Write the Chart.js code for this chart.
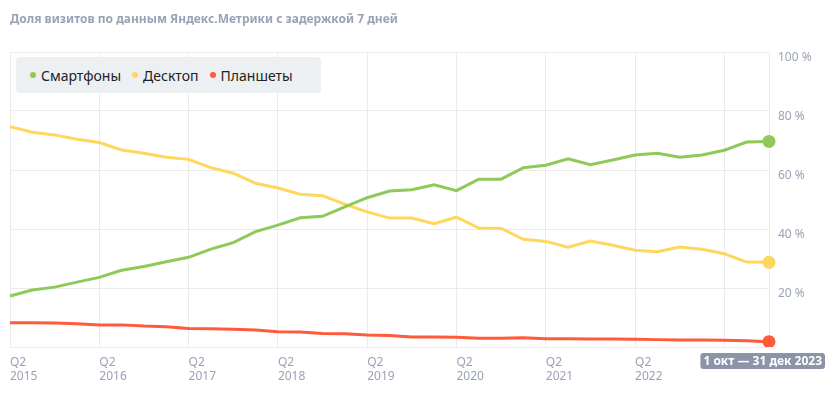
<!DOCTYPE html>
<html>
<head>
<meta charset="utf-8">
<script src="https://cdn.jsdelivr.net/npm/chart.js@4"></script>
<style>
  body { margin:0; background:#fff; font-family:"Noto Sans", Arial, sans-serif; }
  #wrap { position:relative; width:833px; height:399px; }
  #title { position:absolute; left:10px; top:10px; font-size:12px; font-weight:bold; color:#9aa2b6; }
  #legend { position:absolute; left:16px; top:57px; width:305px; height:36px; background:#edf0f3; border-radius:4px;
            display:flex; align-items:center; padding-left:14px; box-sizing:border-box; font-size:14px; color:#222; }
  #legend span.item { margin-right:11px; display:flex; align-items:center; }
  #legend span.dot { width:6px; height:6px; border-radius:3px; margin-right:5px; display:inline-block; }
</style>
</head>
<body>
<div id="wrap">
  <canvas id="myChart" width="833" height="399"></canvas>
  <div id="title">Доля визитов по данным Яндекс.Метрики с задержкой 7 дней</div>
  <div id="legend"></div>
</div>
<script>
// quarters Q2 2015 .. Q4 2023
let quarters=[];
for(let y=2015;y<=2023;y++){
  for(let q=1;q<=4;q++){
    if(y==2015 && q==1) continue;
    quarters.push("Q"+q+" "+y);
  }
}
let lastLabel="1 окт — 31 дек 2023";

let seriesNames=["Смартфоны","Десктоп","Планшеты"];
let seriesColors=["#8fc95a","#ffd75e","#ff5a3b"];

let smartphones=[17.3,19.3,20.3,22.0,23.6,26.0,27.3,28.9,30.4,33.2,35.4,39.1,41.3,
  43.8,44.3,47.5,50.6,52.9,53.3,55.0,53.0,56.9,56.9,60.8,61.6,
  63.8,61.8,63.4,65.1,65.7,64.3,65.1,66.7,69.5,69.7];
let desktop=[74.7,72.8,71.9,70.4,69.3,66.8,65.7,64.3,63.6,60.8,58.9,55.5,53.9,
  51.8,51.3,48.4,45.8,43.7,43.7,41.8,44.0,40.3,40.2,36.5,35.8,
  33.8,35.9,34.5,32.8,32.3,33.9,33.1,31.6,28.8,28.7];
let tablets=[8.2,8.2,8.1,7.9,7.5,7.5,7.1,6.9,6.3,6.2,6.0,5.8,5.2,
  5.1,4.6,4.5,4.1,3.9,3.4,3.4,3.3,3.0,3.0,3.1,2.8,
  2.8,2.7,2.7,2.6,2.5,2.4,2.4,2.3,2.1,1.8];

let yTicks=[0,20,40,60,80,100];

let allData=[smartphones,desktop,tablets];
let lastIdx=quarters.length-1;

// legend
let leg=document.getElementById("legend");
seriesNames.forEach((n,i)=>{
  leg.innerHTML+='<span class="item"><span class="dot" style="background:'+seriesColors[i]+'"></span>'+n+'</span>';
});

let badgePlugin={
  id:"badge",
  afterDraw(chart){
    let c=chart.ctx;
    let x=chart.scales.x.getPixelForValue(lastIdx);
    c.save();
    c.font="bold 12px 'Liberation Sans Narrow', 'Noto Sans', Arial, sans-serif";
    let w=c.measureText(lastLabel).width+6;
    let left=Math.min(x-w/2, 833-8-w);
    let top=353, h=16;
    c.fillStyle="#8e94a8";
    c.beginPath();
    c.roundRect(left,top,w,h,3);
    c.fill();
    c.fillStyle="#fff";
    c.textBaseline="middle";
    c.textAlign="left";
    c.fillText(lastLabel,left+3,top+h/2+1);
    c.restore();
  }
};

const ctx=document.getElementById("myChart").getContext("2d");
const myChart=new Chart(ctx,{
  type:"line",
  data:{
    labels:quarters,
    datasets:allData.map((d,i)=>({
      label:seriesNames[i],
      data:d,
      borderColor:seriesColors[i],
      backgroundColor:seriesColors[i],
      borderWidth:3,
      tension:0,
      pointRadius:c=>c.dataIndex==lastIdx?5:0,
      pointHoverRadius:5
    }))
  },
  options:{
    responsive:false,
    animation:false,
    layout:{padding:{left:10,top:52,right:0,bottom:0}},
    plugins:{legend:{display:false},tooltip:{enabled:false}},
    scales:{
      x:{
        offset:false,
        border:{display:false},
        grid:{
          drawTicks:false,
          color:c=>(c.index%4==0 || c.index==lastIdx)?"#ebebeb":"rgba(0,0,0,0)"
        },
        ticks:{
          autoSkip:false,
          maxRotation:0,
          align:"start",
          padding:8,
          color:"#9aa2b6",
          font:{size:12,family:"'Liberation Sans Narrow', 'Noto Sans', Arial, sans-serif"},
          lineHeight:1.45,
          callback:function(v,i){
            if(i%4==0 && i<32){
              let p=quarters[i].split(" ");
              return [p[0],p[1]];
            }
            return "";
          }
        },
        afterFit:s=>{s.height=52;}
      },
      y:{
        position:"right",
        min:0,max:100,
        border:{display:false},
        grid:{drawTicks:false,color:"#ebebeb"},
        afterBuildTicks:s=>{s.ticks=yTicks.map(v=>({value:v}));},
        ticks:{
          padding:9,
          labelOffset:6,
          color:"#9aa2b6",
          font:{size:12,family:"'Noto Sans', Arial, sans-serif"},
          callback:v=>v==0?"":v+" %"
        },
        afterFit:s=>{s.width=64;}
      }
    }
  },
  plugins:[badgePlugin]
});
</script>
</body>
</html>
